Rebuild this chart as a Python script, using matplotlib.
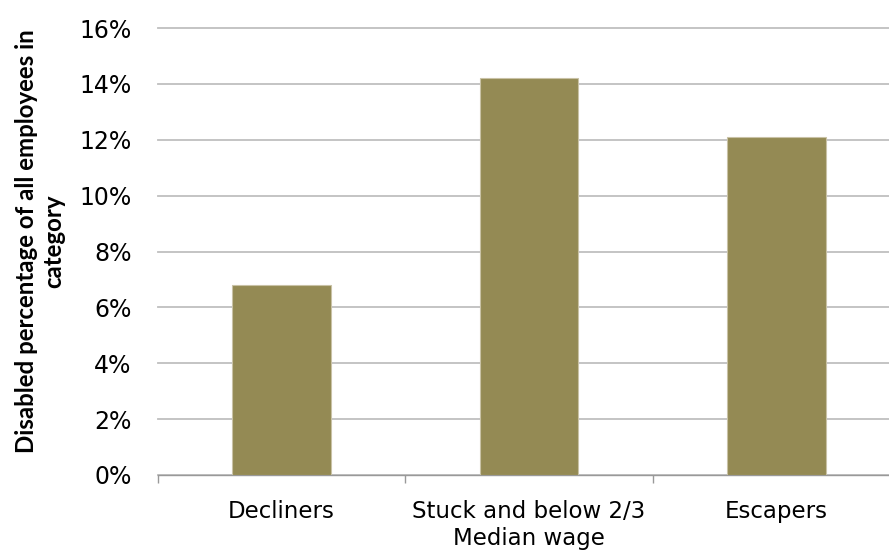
import matplotlib
matplotlib.use("Agg")
import matplotlib.pyplot as plt
from matplotlib.ticker import FixedLocator, PercentFormatter

categories = ["Decliners", "Stuck and below 2/3\nMedian wage", "Escapers"]
values = [6.8, 14.2, 12.1]
yticks = [0, 2, 4, 6, 8, 10, 12, 14, 16]

plt.rcParams['font.family'] = ['DejaVu Sans']

W, H = 889, 554
fig = plt.figure(figsize=(W / 100, H / 100), dpi=100)
left, right, top, bottom = 158, 900, 28, 475
ax = fig.add_axes([left / W, 1 - bottom / H, (right - left) / W, (bottom - top) / H])

x = list(range(len(categories)))
ax.bar(x, values, width=0.4, color="#948A54", edgecolor="#C9C2A6", linewidth=0.8, zorder=3)

ax.set_xlim(-0.5, len(categories) - 0.5)
ax.set_ylim(0, 16)
ax.set_yticks(yticks)
ax.yaxis.set_major_formatter(PercentFormatter(decimals=0))
ax.grid(axis='y', color="#BFBFBF", linewidth=1.3, zorder=0)
for gl in ax.get_ygridlines():
    gl.set_clip_on(False)
ax.set_axisbelow(True)

for s in ['top', 'right', 'left']:
    ax.spines[s].set_visible(False)
ax.spines['bottom'].set_color("#999999")
ax.spines['bottom'].set_linewidth(1.0)

ax.set_xticks(x)
ax.set_xticklabels(categories, fontsize=16.5, color="#000000", linespacing=1.2)
ax.tick_params(axis='x', length=0, pad=18)
ax.xaxis.set_minor_locator(FixedLocator([-0.5, 0.5, 1.5, 2.5]))
ax.tick_params(axis='x', which='minor', length=6, color="#999999", width=1.0)
ax.tick_params(axis='y', length=0, pad=19, labelsize=17)

fig.text(40 / W, 1 - 241 / H, "Disabled percentage of all employees in\ncategory",
         rotation=90, ha='center', va='center', fontsize=17.3, fontweight='bold',
         family=['Lato', 'DejaVu Sans'], linespacing=1.25)

fig.savefig("out.png", dpi=100)
